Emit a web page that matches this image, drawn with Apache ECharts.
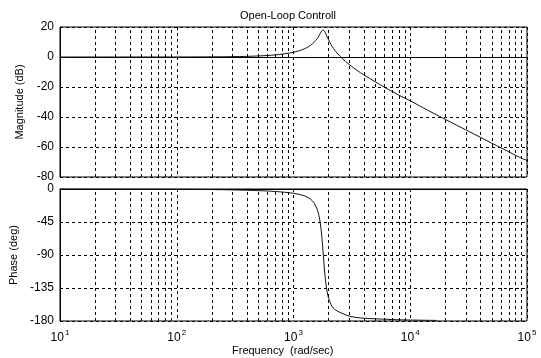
<!DOCTYPE html>
<html>
<head>
<meta charset="utf-8">
<script src="https://cdn.jsdelivr.net/npm/echarts@6/dist/echarts.min.js"></script>
<style>
  html, body { margin: 0; padding: 0; background: #fff; }
  #chart { width: 541px; height: 358px; }
</style>
</head>
<body>
<div id="chart"></div>
<script>
// 幅值曲线 (rad/sec, dB)
var magFreq = [10, 100, 200, 300, 400, 500, 600, 700, 800, 900, 1000, 1100, 1200, 1300, 1400, 1500,
  1600, 1650, 1700, 1750, 1800, 1850, 1900, 1950, 2000, 2100, 2200, 2400, 2600, 3000, 3500, 4000,
  5000, 6000, 7000, 8500, 10000, 13000, 16000, 20000, 25000, 30000, 40000, 50000, 60000, 70000, 85000, 100000];
var magDb = [0, 0.03, 0.11, 0.24, 0.43, 0.69, 1.0, 1.4, 1.9, 2.5, 3.2, 4.0, 5.0, 6.2, 7.8, 9.8,
  12.4, 14.1, 15.9, 17.4, 18.0, 17.0, 15.1, 13.1, 11.3, 8.2, 5.7, 2.0, -0.8, -5.0, -8.9, -11.9,
  -16.5, -20.1, -23.0, -26.5, -29.2, -34.0, -37.7, -41.6, -45.5, -48.6, -53.6, -57.5, -60.6, -63.3, -66.6, -69.0];

// 相位曲线 (rad/sec, deg)
var phaseFreq = [10, 100, 200, 300, 500, 700, 1000, 1200, 1300, 1400, 1500, 1600, 1650, 1700, 1750,
  1800, 1850, 1900, 1950, 2000, 2100, 2200, 2400, 2600, 3000, 3500, 4000, 5000, 7000, 10000, 17000];
var phaseDeg = [0, -0.4, -0.8, -1.2, -2.2, -3.4, -5.8, -8.6, -10.8, -13.9, -19.0, -28.1, -35.9, -47.8, -65.9,
  -90, -113.5, -130.6, -141.8, -149.2, -157.8, -162.7, -166.9, -169.4, -173.3, -175.3, -176.2, -177.0, -178.0, -178.7, -179.2];

// 对数网格的次刻度
var minorFreq = [];
[10, 100, 1000, 10000].forEach(function (d) {
  for (var k = 2; k <= 9; k++) minorFreq.push(d * k);
});

var magTicks = [-80, -60, -40, -20, 0, 20];
var phaseTicks = [-180, -135, -90, -45, 0];

var chart = echarts.init(document.getElementById('chart'));

var font = 'Liberation Sans, Arial, sans-serif';
var dash = { color: '#000', width: 1, type: [3, 3] };

function minorLines() {
  return {
    silent: true,
    symbol: 'none',
    label: { show: false },
    lineStyle: dash,
    data: minorFreq.map(function (f) { return { xAxis: f }; })
  };
}

function xAx(idx, showLabel) {
  return {
    type: 'log',
    logBase: 10,
    gridIndex: idx,
    min: 10,
    max: 100000,
    axisLine: { show: true, lineStyle: { color: '#000' } },
    axisTick: { show: false },
    splitLine: { show: true, lineStyle: dash },
    axisLabel: {
      show: showLabel,
      margin: 8,
      formatter: function (v) {
        return '{b|10}{s|' + Math.round(Math.log10(v)) + '}';
      },
      rich: {
        b: { fontSize: 12, fontFamily: font, color: '#000', lineHeight: 18 },
        s: { fontSize: 8, fontFamily: font, color: '#000', verticalAlign: 'top', padding: [0, 0, 0, 1] }
      }
    }
  };
}

var option = {
  animation: false,
  backgroundColor: '#fff',
  title: [
    { text: 'Open-Loop Controll', left: 240, top: 10, padding: 0, textStyle: { fontSize: 11, fontWeight: 'normal', color: '#000', fontFamily: font } },
    { text: 'Frequency  (rad/sec)', left: 232, top: 345, padding: 0, textStyle: { fontSize: 11, fontWeight: 'normal', color: '#000', fontFamily: font } }
  ],
  grid: [
    { left: 60, top: 27, width: 467, height: 150, show: true, borderColor: '#000', borderWidth: 1 },
    { left: 60, top: 189, width: 467, height: 132, show: true, borderColor: '#000', borderWidth: 1 }
  ],
  xAxis: [xAx(0, false), xAx(1, true)],
  yAxis: [
    {
      type: 'value', gridIndex: 0, min: magTicks[0], max: magTicks[magTicks.length - 1], interval: 20,
      name: 'Magnitude (dB)', nameLocation: 'middle', nameGap: 32,
      nameTextStyle: { fontSize: 11, color: '#000', fontFamily: font },
      axisLine: { show: true, lineStyle: { color: '#000' } },
      axisTick: { show: false },
      axisLabel: { fontSize: 12, color: '#000', fontFamily: font, margin: 6 },
      splitLine: { show: true, lineStyle: dash }
    },
    {
      type: 'value', gridIndex: 1, min: phaseTicks[0], max: phaseTicks[phaseTicks.length - 1], interval: 45,
      name: 'Phase (deg)', nameLocation: 'middle', nameGap: 37,
      nameTextStyle: { fontSize: 11, color: '#000', fontFamily: font },
      axisLine: { show: true, lineStyle: { color: '#000' } },
      axisTick: { show: false },
      axisLabel: { fontSize: 12, color: '#000', fontFamily: font, margin: 6 },
      splitLine: { show: true, lineStyle: dash }
    }
  ],
  series: [
    {
      type: 'line', xAxisIndex: 0, yAxisIndex: 0, showSymbol: false, smooth: 0.3,
      lineStyle: { color: '#111', width: 1 },
      data: magFreq.map(function (f, i) { return [f, magDb[i]]; }),
      markLine: minorLines()
    },
    {
      type: 'line', xAxisIndex: 1, yAxisIndex: 1, showSymbol: false, smooth: 0.3,
      lineStyle: { color: '#111', width: 1 },
      data: phaseFreq.map(function (f, i) { return [f, phaseDeg[i]]; }),
      markLine: minorLines()
    }
  ]
};

chart.setOption(option);
window.addEventListener('resize', function () { chart.resize(); });
</script>
</body>
</html>
